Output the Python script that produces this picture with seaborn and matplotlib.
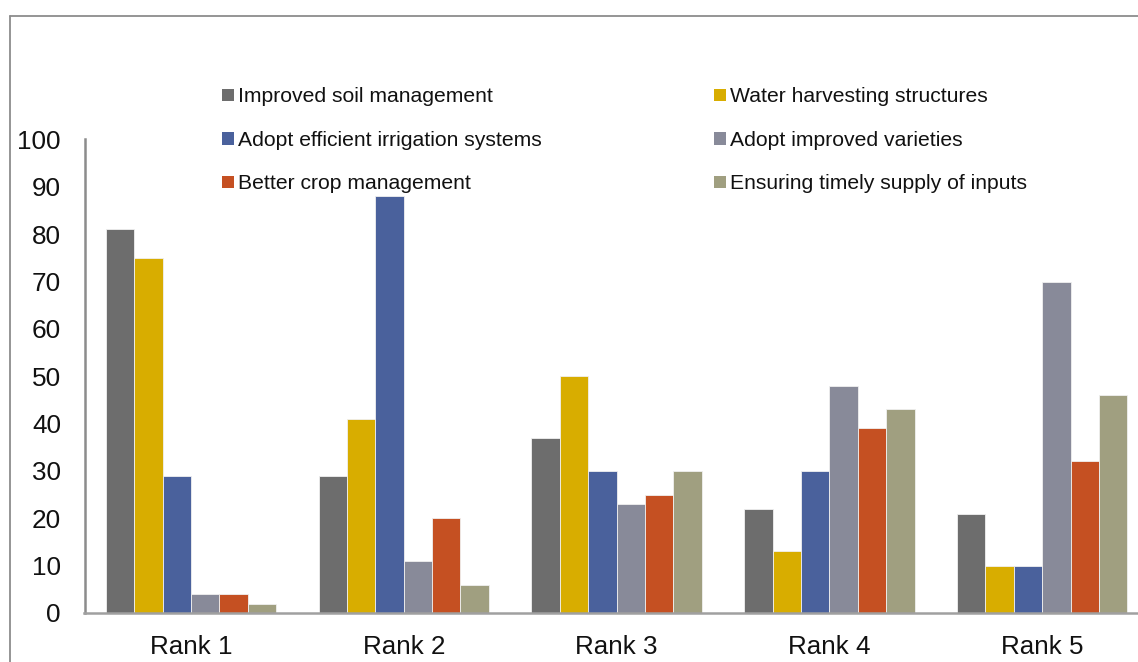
import matplotlib
matplotlib.use("Agg")
import matplotlib.pyplot as plt
import seaborn as sns
import pandas as pd
from matplotlib.patches import Patch
from matplotlib.lines import Line2D

categories = ["Rank 1", "Rank 2", "Rank 3", "Rank 4", "Rank 5"]
series_names = [
    "Improved soil management",
    "Water harvesting structures",
    "Adopt efficient irrigation systems",
    "Adopt improved varieties",
    "Better crop management",
    "Ensuring timely supply of inputs",
]
soil = [81, 29, 37, 22, 21]
water = [75, 41, 50, 13, 10]
irrigation = [29, 88, 30, 30, 10]
varieties = [4, 11, 23, 48, 70]
crop = [4, 20, 25, 39, 32]
inputs = [2, 6, 30, 43, 46]
yticks = [0, 10, 20, 30, 40, 50, 60, 70, 80, 90, 100]

colors = ["#6d6d6d", "#d8ad00", "#4a619c", "#888a99", "#c55022", "#a09f80"]

values = [soil, water, irrigation, varieties, crop, inputs]
rows = []
for name, vals in zip(series_names, values):
    for cat, v in zip(categories, vals):
        rows.append({"Rank": cat, "Series": name, "Value": v})
df = pd.DataFrame(rows)

sns.set_style("white")
plt.rcParams["font.family"] = ["Liberation Sans", "DejaVu Sans"]

fig = plt.figure(figsize=(11.38, 6.62), dpi=100)
ax = fig.add_axes([84.5 / 1138, 49 / 662, 1 - 84.5 / 1138, (613 - 139.5) / 662])

sns.barplot(data=df, x="Rank", y="Value", hue="Series", hue_order=series_names,
            order=categories, palette=colors, saturation=1, width=0.8, gap=0,
            edgecolor="#f0f0f0", linewidth=0.6, legend=False, ax=ax)

ax.set_ylim(0, 100)
ax.set_xlim(-0.5, 4.45)
ax.set_yticks(yticks)
ax.set_yticklabels([str(t) for t in yticks])
ax.set_xlabel("")
ax.set_ylabel("")
ax.tick_params(axis="y", length=0, pad=17, labelsize=18.8, labelcolor="#111111")
ax.tick_params(axis="x", length=0, pad=16, labelsize=18.7, labelcolor="#111111")
for s in ["top", "right"]:
    ax.spines[s].set_visible(False)
ax.spines["left"].set_color("#8c8c8c")
ax.spines["left"].set_linewidth(1.8)
ax.spines["bottom"].set_color("#a0a0a0")
ax.spines["bottom"].set_linewidth(1.8)
ax.grid(False)

# figure border (left & top)
fig.add_artist(Line2D([9.5 / 1138, 9.5 / 1138], [0, 1 - 16 / 662], transform=fig.transFigure,
                      color="#8c8c8c", linewidth=1.3))
fig.add_artist(Line2D([9.5 / 1138, 1], [1 - 16 / 662, 1 - 16 / 662], transform=fig.transFigure,
                      color="#8c8c8c", linewidth=1.3))

handles = [Patch(facecolor=c, edgecolor="none") for c in colors]
leg_kw = dict(frameon=False, fontsize=15.2, handlelength=0.55, handleheight=0.55,
              handletextpad=0.2, labelspacing=1.16, borderpad=0, borderaxespad=0,
              loc="upper left")
col1 = [0, 2, 4]
col2 = [1, 3, 5]
leg1 = fig.legend([handles[i] for i in col1], [series_names[i] for i in col1],
                  bbox_to_anchor=(222 / 1138, 1 - 87.5 / 662), **leg_kw)
leg2 = fig.legend([handles[i] for i in col2], [series_names[i] for i in col2],
                  bbox_to_anchor=(714 / 1138, 1 - 87.5 / 662), **leg_kw)
for leg in (leg1, leg2):
    for t in leg.get_texts():
        t.set_color("#111111")

fig.savefig("out.png", dpi=100)
